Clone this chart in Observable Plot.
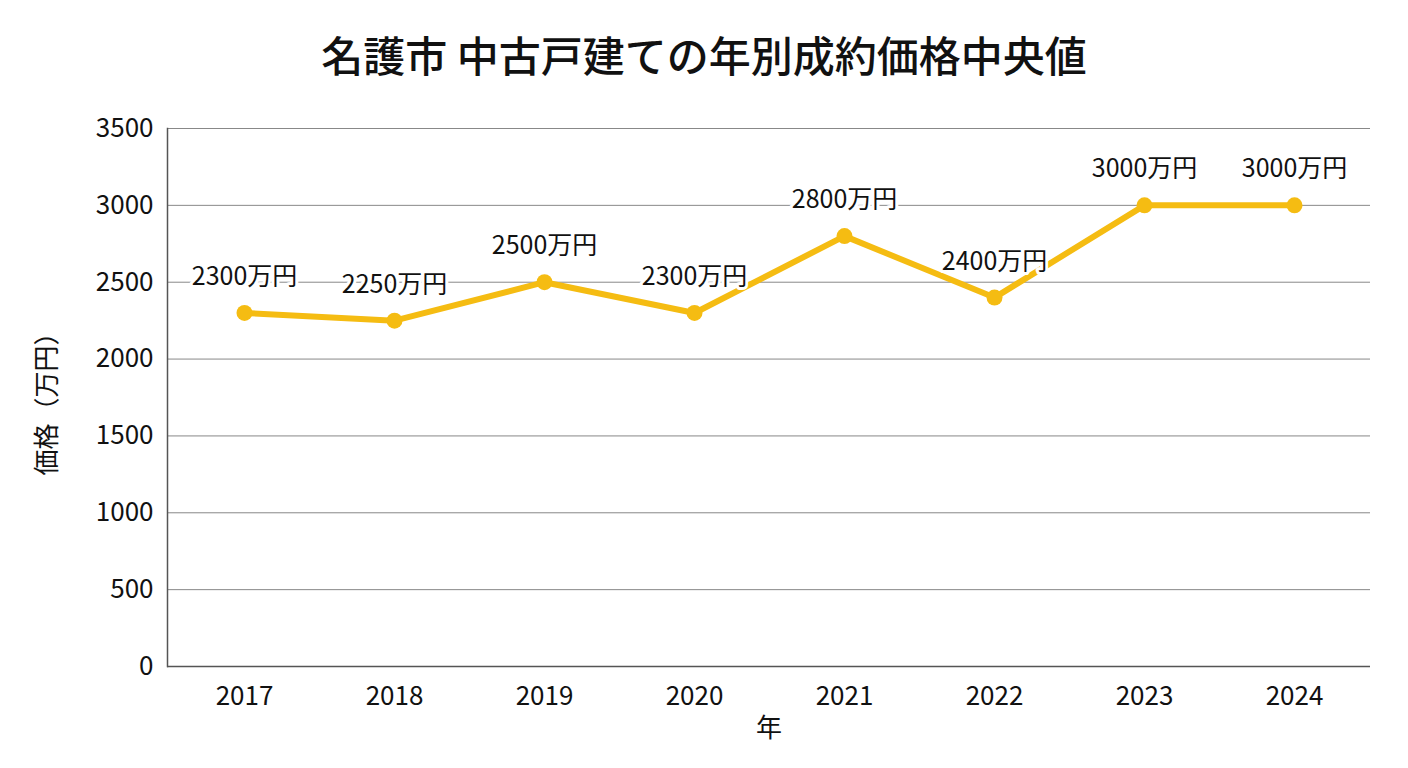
<!DOCTYPE html>
<html><head><meta charset="utf-8">
<script src="https://cdn.jsdelivr.net/npm/d3@7"></script>
<script src="https://cdn.jsdelivr.net/npm/@observablehq/plot@0.6"></script>
<style>
body{margin:0;background:#fff;font-family:"Noto Sans CJK JP","Noto Sans",sans-serif;}
#title{height:100px;line-height:108px;text-align:center;font-size:42px;font-weight:500;color:#111;}
</style></head><body>
<div id="title">名護市 中古戸建ての年別成約価格中央値</div>
<div id="chart"></div>
<script>
const years = ["2017","2018","2019","2020","2021","2022","2023","2024"];
const prices = [2300,2250,2500,2300,2800,2400,3000,3000];
const yTicks = [0,500,1000,1500,2000,2500,3000,3500];
const data = years.map((y,i)=>({year:y, price:prices[i]}));
const color = "#F5BC12";
const chart = Plot.plot({
  width:1408, height:668,
  marginTop:28, marginBottom:102, marginLeft:167, marginRight:38,
  style:{fontFamily:'"Noto Sans CJK JP","Noto Sans",sans-serif', fontSize:"26px", color:"#111"},
  x:{type:"point", domain:years, padding:0.5},
  y:{domain:[0,3500]},
  marks:[
    Plot.gridY(yTicks,{stroke:"#888", strokeOpacity:1, strokeWidth:1}),
    Plot.frame({anchor:"left", stroke:"#555", strokeWidth:1.5}),
    Plot.ruleY([0],{stroke:"#555", strokeWidth:1.5}),
    Plot.axisX({tickSize:0, tickPadding:20, fontSize:26, label:"年", labelAnchor:"center", labelArrow:"none", labelOffset:70}),
    Plot.axisY(yTicks,{tickSize:0, tickPadding:14, fontSize:26, tickFormat:d=>String(d), label:"価格（万円）", labelAnchor:"center", labelArrow:"none", labelOffset:130}),
    Plot.line(data,{x:"year", y:"price", stroke:color, strokeWidth:6}),
    Plot.dot(data,{x:"year", y:"price", r:8, fill:color}),
    Plot.text(data,{x:"year", y:"price", text:d=>d.price+"万円", dy:-36, fontSize:25, fill:"#111", stroke:"white", strokeWidth:6})
  ]
});
document.getElementById("chart").append(chart);
</script></body></html>
